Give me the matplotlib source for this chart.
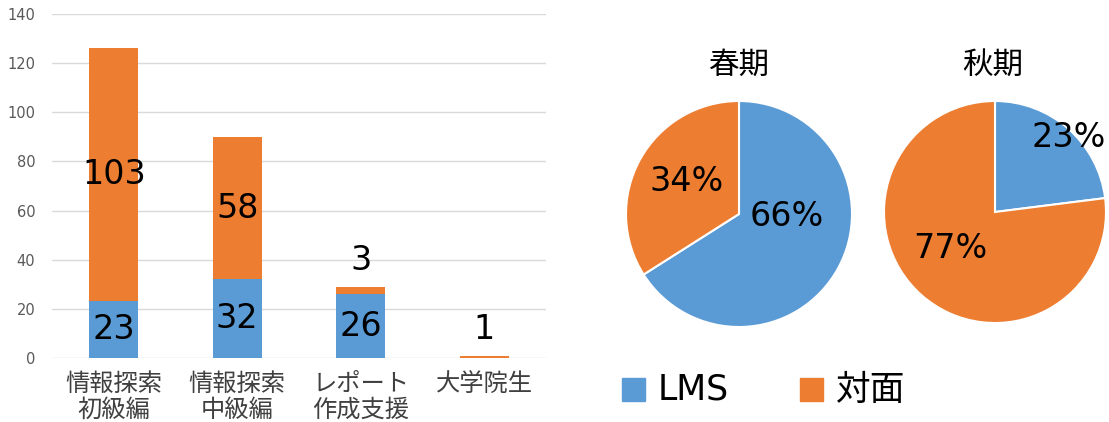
import matplotlib
matplotlib.use("Agg")
import matplotlib.pyplot as plt
import numpy as np
from matplotlib.patches import Rectangle

plt.rcParams['font.family'] = ['DejaVu Sans', 'Noto Sans CJK JP']

categories = ["情報探索\n初級編", "情報探索\n中級編", "レポート\n作成支援", "大学院生"]
lms_counts = [23, 32, 26, 0]
face_counts = [103, 58, 3, 1]
y_ticks = [0, 20, 40, 60, 80, 100, 120, 140]

pie_titles = ["春期", "秋期"]
spring_share = [66, 34]   # LMS, 対面
autumn_share = [23, 77]
legend_labels = ["LMS", "対面"]

BLUE = "#5B9BD5"
ORANGE = "#ED7D31"
W, H = 1109, 422

fig = plt.figure(figsize=(W / 100, H / 100), dpi=100)

def box(l, t, w, h):
    return [l / W, 1 - (t + h) / H, w / W, h / H]

# ---- bar chart ----
ax = fig.add_axes(box(52, 14, 494, 344))
x = np.arange(len(categories))
bw = 0.4
ax.bar(x, lms_counts, bw, color=BLUE, zorder=3)
ax.bar(x, face_counts, bw, bottom=lms_counts, color=ORANGE, zorder=3)
ax.set_ylim(0, 140)
ax.set_xlim(-0.5, len(categories) - 0.5)
ax.set_yticks(y_ticks)
ax.yaxis.grid(True, color="#D9D9D9", lw=1, zorder=0)
for s in ax.spines.values():
    s.set_visible(False)
ax.tick_params(axis='y', length=0, labelsize=10.5, labelcolor="#595959", pad=12)
ax.set_xticks(x)
ax.set_xticklabels(categories, fontsize=17.5, color="#404040", linespacing=1.1)
ax.tick_params(axis='x', length=0, pad=10)

label_fs = 24
for i in range(len(categories)):
    b, f = lms_counts[i], face_counts[i]
    if b > 0:
        ax.text(x[i], b / 2, str(b), ha='center', va='center', fontsize=label_fs, zorder=5)
    if f >= 5:
        ax.text(x[i], b + f / 2, str(f), ha='center', va='center', fontsize=label_fs, zorder=5)
    elif f > 0:
        ax.annotate(str(f), (x[i], b + f), xytext=(0, 19), textcoords='offset points',
                    ha='center', va='center', fontsize=label_fs, zorder=5)

# ---- pies ----
def draw_pie(rect, shares, label_pos):
    pax = fig.add_axes(rect)
    pax.pie(shares, colors=[BLUE, ORANGE], startangle=90, counterclock=False,
            wedgeprops=dict(edgecolor='white', linewidth=1.5))
    pax.set_xlim(-1.0, 1.0)
    pax.set_ylim(-1.0, 1.0)
    pax.set_aspect('equal')
    pax.axis('off')
    for v, (px, py) in zip(shares, label_pos):
        pax.text(px, py, f"{v}%", ha='center', va='center', fontsize=label_fs)
    return pax

draw_pie(box(626, 101, 226, 226), spring_share, [(0.42, -0.02), (-0.46, 0.29)])
draw_pie(box(884, 101, 222, 222), autumn_share, [(0.66, 0.67), (-0.40, -0.33)])

fig.text(739 / W, 1 - 65 / H, pie_titles[0], ha='center', va='center', fontsize=22)
fig.text(993 / W, 1 - 65 / H, pie_titles[1], ha='center', va='center', fontsize=22)

# ---- legend ----
leg_y = 390
fig.patches.append(Rectangle((622 / W, 1 - 401 / H), 23 / W, 23 / H, transform=fig.transFigure,
                             color=BLUE, figure=fig))
fig.patches.append(Rectangle((800 / W, 1 - 401 / H), 23 / W, 23 / H, transform=fig.transFigure,
                             color=ORANGE, figure=fig))
fig.text(658 / W, 1 - leg_y / H, legend_labels[0], ha='left', va='center', fontsize=25)
fig.text(836 / W, 1 - leg_y / H, legend_labels[1], ha='left', va='center', fontsize=25)

fig.savefig("out.png", dpi=100)
